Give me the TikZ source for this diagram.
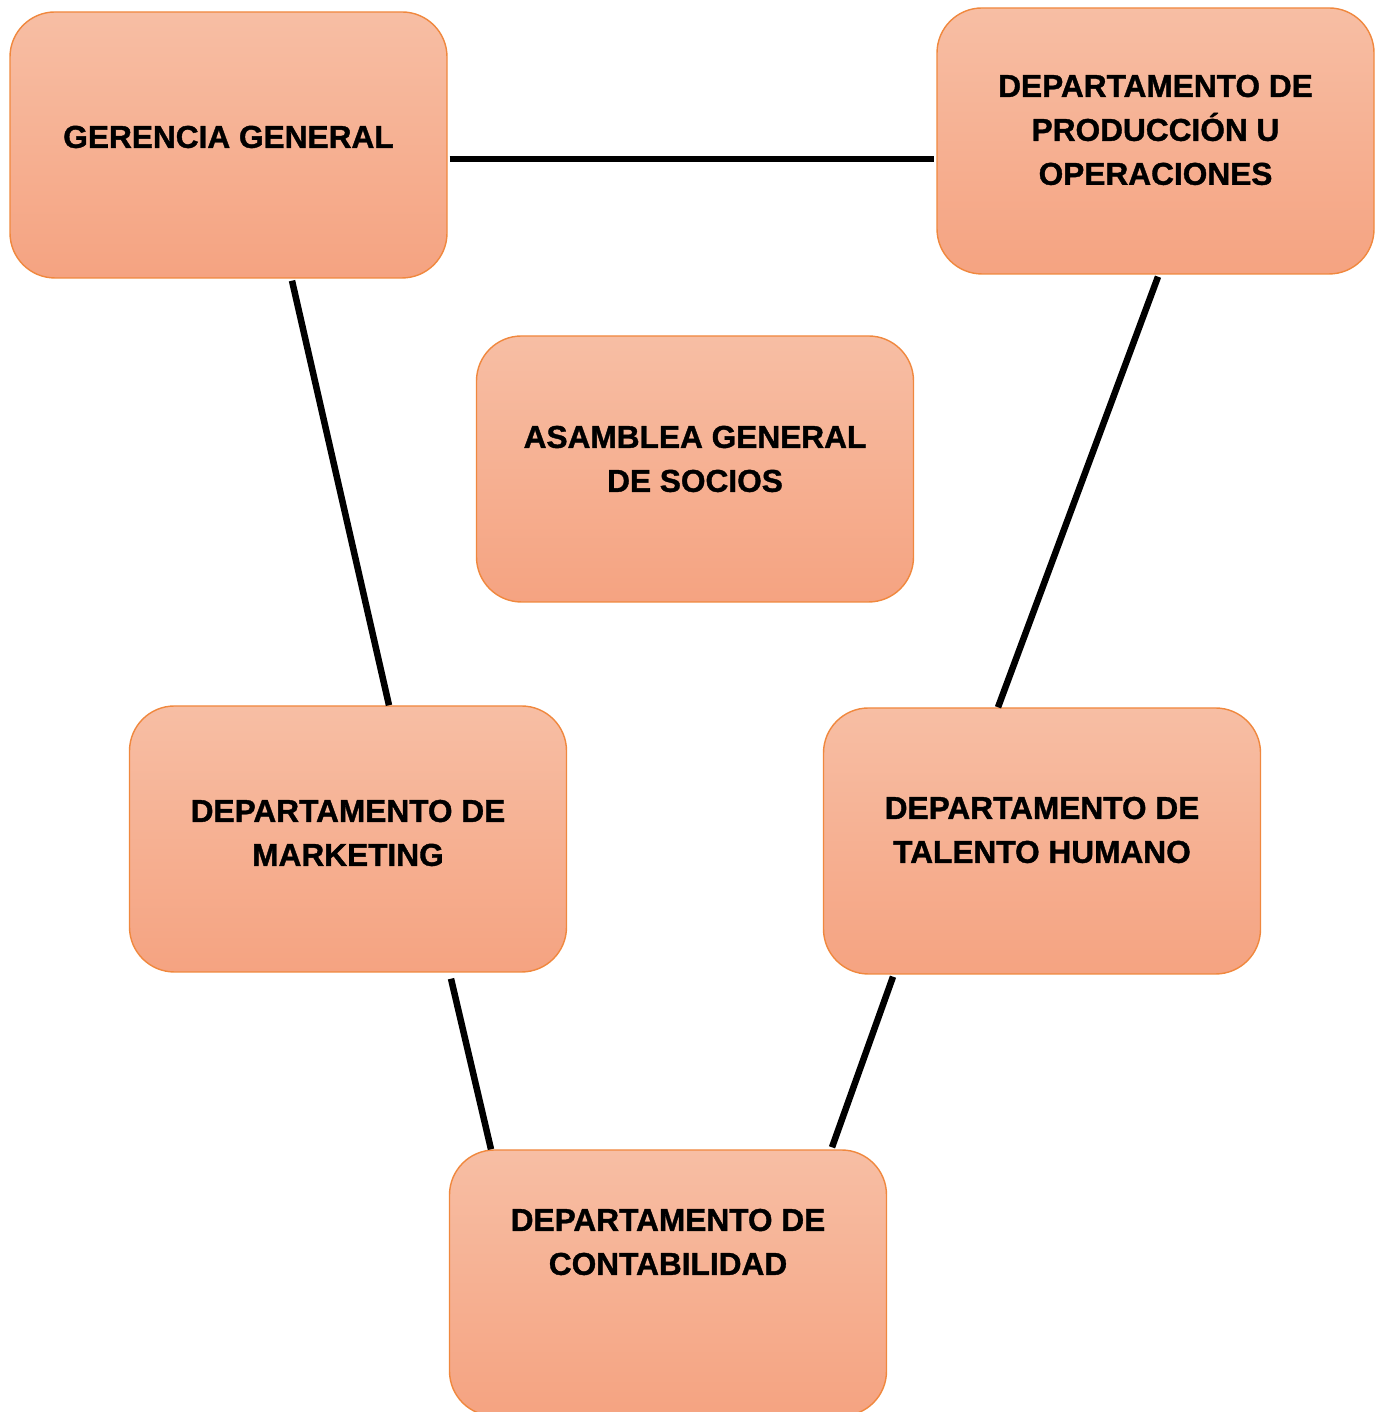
\documentclass[tikz,border=0pt]{standalone}
\usepackage{fontspec}
\setmainfont{Liberation Sans}[BoldFeatures={FakeBold=1.2}]
\usetikzlibrary{positioning}
\definecolor{boxtop}{HTML}{F7BEA4}
\definecolor{boxbot}{HTML}{F5A381}
\definecolor{boxline}{HTML}{F0883E}
\tikzset{
	deptbox/.style={rectangle, rounded corners=0.9cm, draw=boxline, line width=0.8pt,
		top color=boxtop, bottom color=boxbot, minimum width=8.74cm, minimum height=5.32cm, inner sep=0pt},
	deptlabel/.style={align=center, font=\bfseries\fontsize{18}{25}\selectfont, inner sep=0pt},
	link/.style={draw=black, line width=3.7pt}
}
\begin{document}
\begin{tikzpicture}
				
					\useasboundingbox (0,0) rectangle (27.6,28.24);
					
					% cajas
					\node[deptbox] (gerencia) at (4.57,25.34) {};
					\node[deptbox] (produccion) at (23.11,25.42) {};
					\node[deptbox] (asamblea) at (13.9,18.86) {};
					\node[deptbox] (marketing) at (6.96,11.46) {};
					\node[deptbox] (talento) at (20.84,11.42) {};
					\node[deptbox] (contabilidad) at (13.36,2.58) {};
					
					% textos
					\node[deptlabel] (gerenciatxt) at ([yshift=0.16cm]gerencia.center) {GERENCIA GENERAL};
					\node[deptlabel] (producciontxt) at ([yshift=0.22cm]produccion.center) {DEPARTAMENTO DE\\PRODUCCIÓN U\\OPERACIONES};
					\node[deptlabel] (asambleatxt) at ([yshift=0.2cm]asamblea.center) {ASAMBLEA GENERAL\\DE SOCIOS};
					\node[deptlabel] (marketingtxt) at ([yshift=0.12cm]marketing.center) {DEPARTAMENTO DE\\MARKETING};
					\node[deptlabel] (talentotxt) at ([yshift=0.22cm]talento.center) {DEPARTAMENTO DE\\TALENTO HUMANO};
					\node[deptlabel] (contabilidadtxt) at ([yshift=0.82cm]contabilidad.center) {DEPARTAMENTO DE\\CONTABILIDAD};
					
					% lineas
					\draw[link] ([xshift=0.04cm,yshift=-0.28cm]gerencia.east) -- ([xshift=-0.04cm,yshift=-0.28cm]gerencia.east -| produccion.west);
					\draw[link] ([xshift=1.27cm,yshift=-0.04cm]gerencia.south) -- ([xshift=0.82cm]marketing.north);
					\draw[link] ([xshift=0.05cm,yshift=-0.04cm]produccion.south) -- ([xshift=-0.88cm]talento.north);
					\draw[link] ([xshift=2.06cm,yshift=-0.12cm]marketing.south) -- ([xshift=-3.54cm]contabilidad.north);
					\draw[link] ([xshift=-2.98cm,yshift=-0.04cm]talento.south) -- ([xshift=3.28cm,yshift=0.04cm]contabilidad.north);
										
				\end{tikzpicture}
\end{document}
